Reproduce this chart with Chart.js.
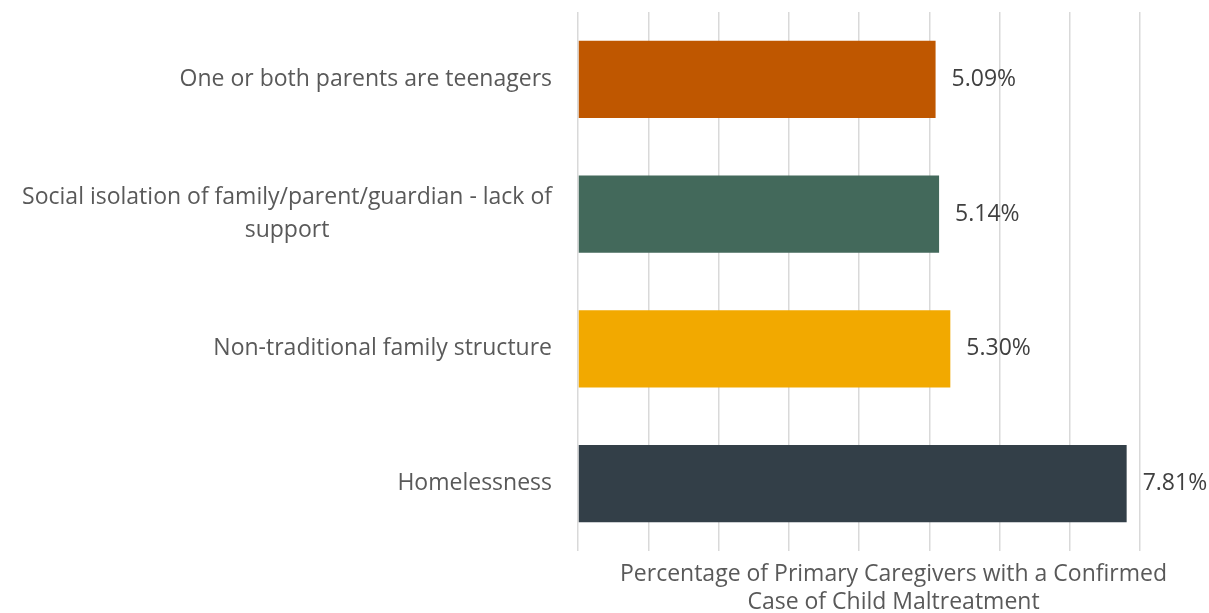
<!DOCTYPE html>
<html>
<head>
<meta charset="utf-8">
<script src="https://cdn.jsdelivr.net/npm/chart.js@4/dist/chart.umd.min.js"></script>
<style>
  html, body { margin: 0; padding: 0; background: #fff; }
  #wrap { width: 1209px; height: 613px; }
</style>
</head>
<body>
<div id="wrap"><canvas id="chart" width="1209" height="613"></canvas></div>
<script>
// categories, top to bottom
const factors = [
    ["One or both parents are teenagers"],
    ["Social isolation of family/parent/guardian - lack of", "support"],
    ["Non-traditional family structure"],
    ["Homelessness"]
];
const percentages = [5.09, 5.14, 5.30, 7.81];
const barColors = ["#BF5700", "#43695B", "#F2A900", "#333F48"];
const axisTitle = ["Percentage of Primary Caregivers with a Confirmed", "Case of Child Maltreatment"];

const FONT = "'Open Sans', 'Liberation Sans', sans-serif";

// category labels: right aligned block, lines centred inside the block
const categoryLabels = {
    id: 'categoryLabels',
    afterDraw(chart) {
        const ctx = chart.ctx;
        const y = chart.scales.y;
        const right = chart.chartArea.left - 26;
        const lineH = 33;
        ctx.save();
        ctx.font = '23px ' + FONT;
        ctx.fillStyle = '#595959';
        ctx.textBaseline = 'middle';
        ctx.textAlign = 'center';
        factors.forEach((lines, i) => {
            const cy = y.getPixelForValue(i);
            const w = Math.max(...lines.map(l => ctx.measureText(l).width));
            const top = cy - (lines.length - 1) * lineH / 2;
            lines.forEach((l, k) => ctx.fillText(l, right - w / 2, top + k * lineH));
        });
        ctx.restore();
    }
};

// value labels after each bar
const valueLabels = {
    id: 'valueLabels',
    afterDatasetsDraw(chart) {
        const ctx = chart.ctx;
        const meta = chart.getDatasetMeta(0);
        ctx.save();
        ctx.font = '23px ' + FONT;
        ctx.fillStyle = '#404040';
        ctx.textBaseline = 'middle';
        ctx.textAlign = 'left';
        meta.data.forEach((bar, i) => {
            ctx.fillText(percentages[i].toFixed(2) + '%', bar.x + 16, bar.y);
        });
        ctx.restore();
    }
};

// x axis title, centred between plot left edge and canvas right edge
const xTitle = {
    id: 'xTitle',
    afterDraw(chart) {
        const ctx = chart.ctx;
        const area = chart.chartArea;
        const cx = (area.left + chart.width) / 2;
        ctx.save();
        ctx.font = '23px ' + FONT;
        ctx.fillStyle = '#595959';
        ctx.textAlign = 'center';
        ctx.textBaseline = 'middle';
        axisTitle.forEach((t, k) => ctx.fillText(t, cx, area.bottom + 23 + k * 28));
        ctx.restore();
    }
};

new Chart(document.getElementById('chart'), {
    type: 'bar',
    data: {
        labels: factors.map(f => f.join(' ')),
        datasets: [{
            data: percentages,
            backgroundColor: barColors,
            categoryPercentage: 1,
            barPercentage: 0.573
        }]
    },
    options: {
        indexAxis: 'y',
        responsive: false,
        animation: false,
        layout: { padding: { top: 12, right: 69, bottom: 62, left: 0 } },
        plugins: { legend: { display: false }, tooltip: { enabled: false } },
        scales: {
            x: {
                min: 0,
                max: 8,
                ticks: { display: false, stepSize: 1 },
                grid: { color: '#D9D9D9', lineWidth: 1.5, drawTicks: false },
                border: { display: false }
            },
            y: {
                ticks: { display: false },
                grid: { display: false },
                border: { display: false },
                afterFit(scale) { scale.width = 578; }
            }
        }
    },
    plugins: [categoryLabels, valueLabels, xTitle]
});
</script>
</body>
</html>
